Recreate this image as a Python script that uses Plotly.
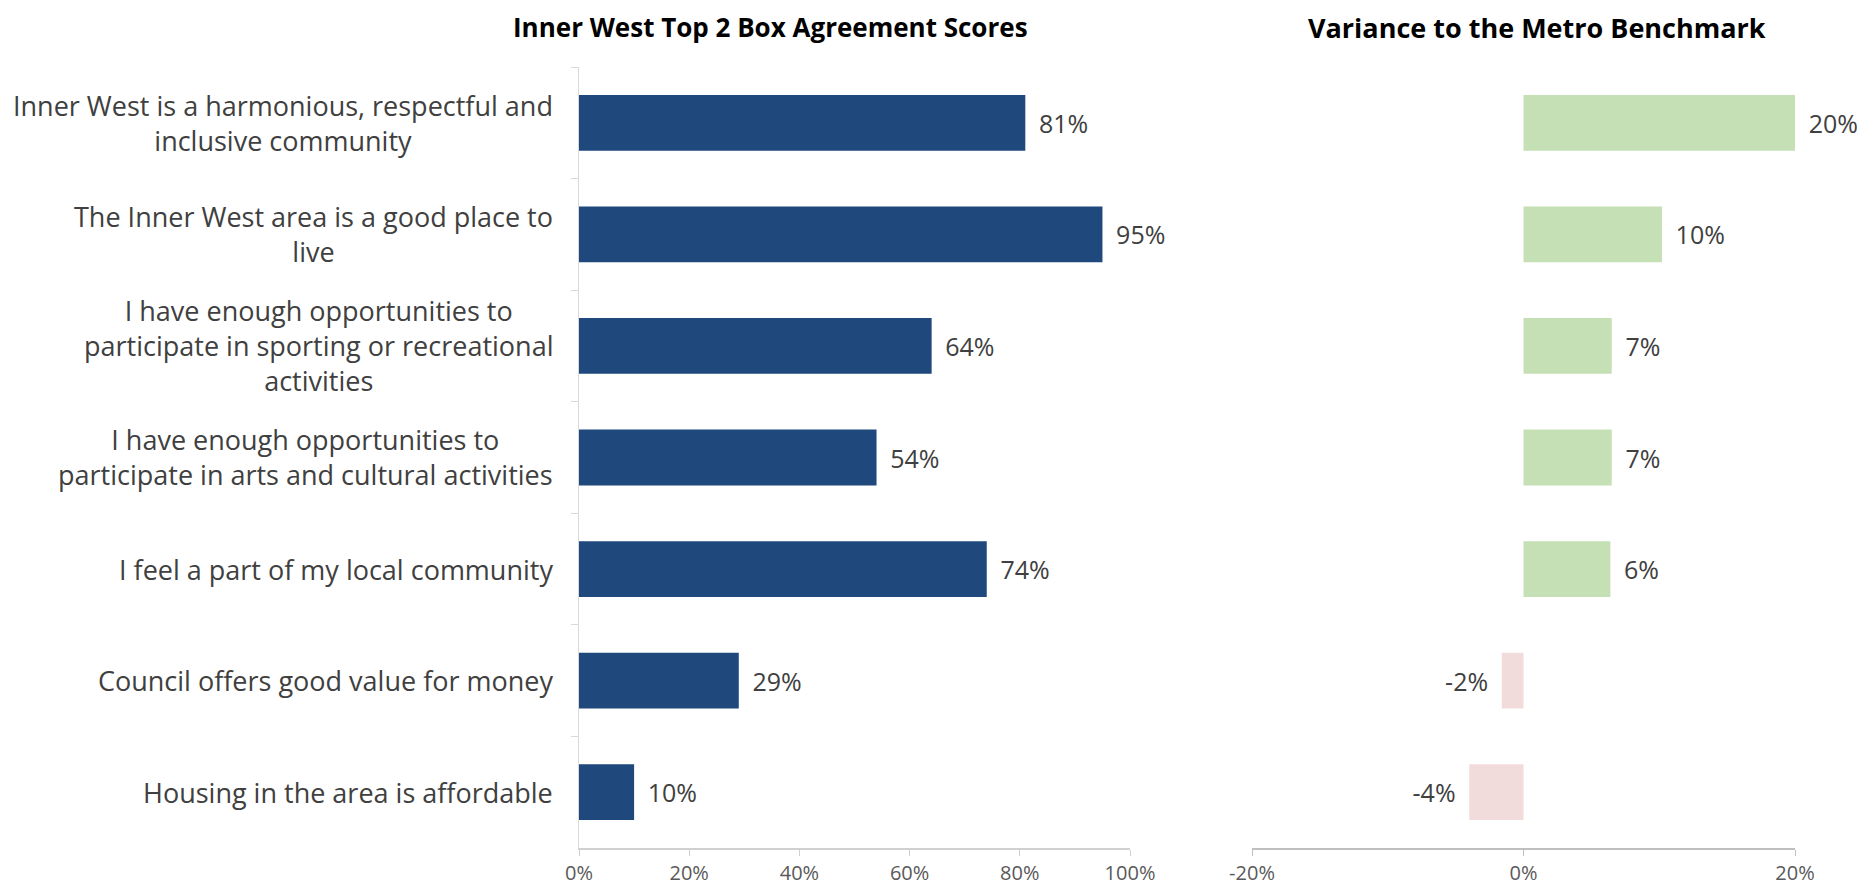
import plotly.graph_objects as go

categories = [
    "Inner West is a harmonious, respectful and<br>inclusive community",
    "The Inner West area is a good place to<br>live",
    "I have enough opportunities to<br>participate in sporting or recreational<br>activities",
    "I have enough opportunities to<br>participate in arts and cultural activities",
    "I feel a part of my local community",
    "Council offers good value for money",
    "Housing in the area is affordable",
]
top2_scores = [0.81, 0.95, 0.64, 0.54, 0.74, 0.29, 0.10]
variance = [0.20, 0.102, 0.065, 0.065, 0.064, -0.016, -0.040]
variance_labels = ["20%", "10%", "7%", "7%", "6%", "-2%", "-4%"]
left_ticks = [0, 0.2, 0.4, 0.6, 0.8, 1.0]
left_tick_labels = ["0%", "20%", "40%", "60%", "80%", "100%"]
right_ticks = [-0.2, 0, 0.2]
right_tick_labels = ["-20%", "0%", "20%"]

# page body has an 8px margin; size the figure to fit inside the window
OFF = 8
W, H = 1868 - 2 * OFF, 895 - 2 * OFF
FONT = "Open Sans"
TXT = "#404040"
TICK = "#595959"
GAP = " \u2009"

def px(x):
    return (x - OFF) / W

def py(y):
    return 1 - (y - OFF) / H

fig = go.Figure()
fig.add_trace(go.Bar(
    y=categories, x=top2_scores, orientation="h",
    marker=dict(color="#1F497D", line=dict(width=0)),
    width=0.5,
    text=[GAP + f"{v:.0%}" for v in top2_scores], textposition="outside",
    textfont=dict(family=FONT, size=25, color=TXT),
    cliponaxis=False, xaxis="x", yaxis="y", showlegend=False,
))
var_colors = ["#C5E0B4" if v >= 0 else "#F2DCDB" for v in variance]
var_text = [(GAP + t) if v >= 0 else (t + GAP) for t, v in zip(variance_labels, variance)]
fig.add_trace(go.Bar(
    y=categories, x=variance, orientation="h",
    marker=dict(color=var_colors, line=dict(width=0)),
    width=0.5,
    text=var_text, textposition="outside",
    textfont=dict(family=FONT, size=25, color=TXT),
    cliponaxis=False, xaxis="x2", yaxis="y2", showlegend=False,
))

annotations = []
for c in categories:
    annotations.append(dict(
        x=px(555), xref="paper", xanchor="right",
        y=c, yref="y", yanchor="middle",
        text=c, showarrow=False, align="center",
        font=dict(family=FONT, size=27, color=TXT),
    ))
annotations.append(dict(
    x=px(770), xref="paper", xanchor="center",
    y=py(27), yref="paper", yanchor="middle",
    text="<b>Inner West Top 2 Box Agreement Scores</b>", showarrow=False,
    font=dict(family=FONT, size=26, color="#000000"),
))
annotations.append(dict(
    x=px(1537), xref="paper", xanchor="center",
    y=py(27), yref="paper", yanchor="middle",
    text="<b>Variance to the Metro Benchmark</b>", showarrow=False,
    font=dict(family=FONT, size=27, color="#000000"),
))

ydom = [py(848), py(67)]
fig.update_layout(
    width=W, height=H,
    autosize=False,
    margin=dict(l=0, r=0, t=0, b=0, pad=0, autoexpand=False),
    paper_bgcolor="white", plot_bgcolor="white",
    bargap=0.5,
    annotations=annotations,
    xaxis=dict(
        domain=[px(579), px(1130)], range=[0, 1], anchor="y",
        tickvals=left_ticks, ticktext=left_tick_labels,
        showgrid=False, zeroline=False, automargin=False,
        showline=True, linecolor="#D0D0D0", linewidth=2,
        ticks="outside", ticklen=6, tickcolor="#D0D0D0", tickwidth=1,
        tickfont=dict(family=FONT, size=20, color=TICK),
        ticklabelstandoff=0,
    ),
    yaxis=dict(
        domain=ydom, type="category", autorange="reversed",
        anchor="x", showticklabels=False, automargin=False,
        showgrid=False, zeroline=False,
        showline=True, linecolor="#D9D9D9", linewidth=1,
        ticks="outside", tickson="boundaries", ticklen=7, tickcolor="#D9D9D9",
    ),
    xaxis2=dict(
        domain=[px(1252), px(1795)], range=[-0.2, 0.2], anchor="y2",
        tickvals=right_ticks, ticktext=right_tick_labels,
        showgrid=False, zeroline=False, automargin=False,
        showline=True, linecolor="#BFBFBF", linewidth=2,
        ticks="outside", ticklen=6, tickcolor="#BFBFBF", tickwidth=1,
        tickfont=dict(family=FONT, size=20, color=TICK),
        ticklabelstandoff=0,
    ),
    yaxis2=dict(
        domain=ydom, type="category", autorange="reversed",
        anchor="x2", matches="y", showticklabels=False, automargin=False,
        showgrid=False, zeroline=False, showline=False, ticks="",
    ),
)

fig.write_html("out.html")
